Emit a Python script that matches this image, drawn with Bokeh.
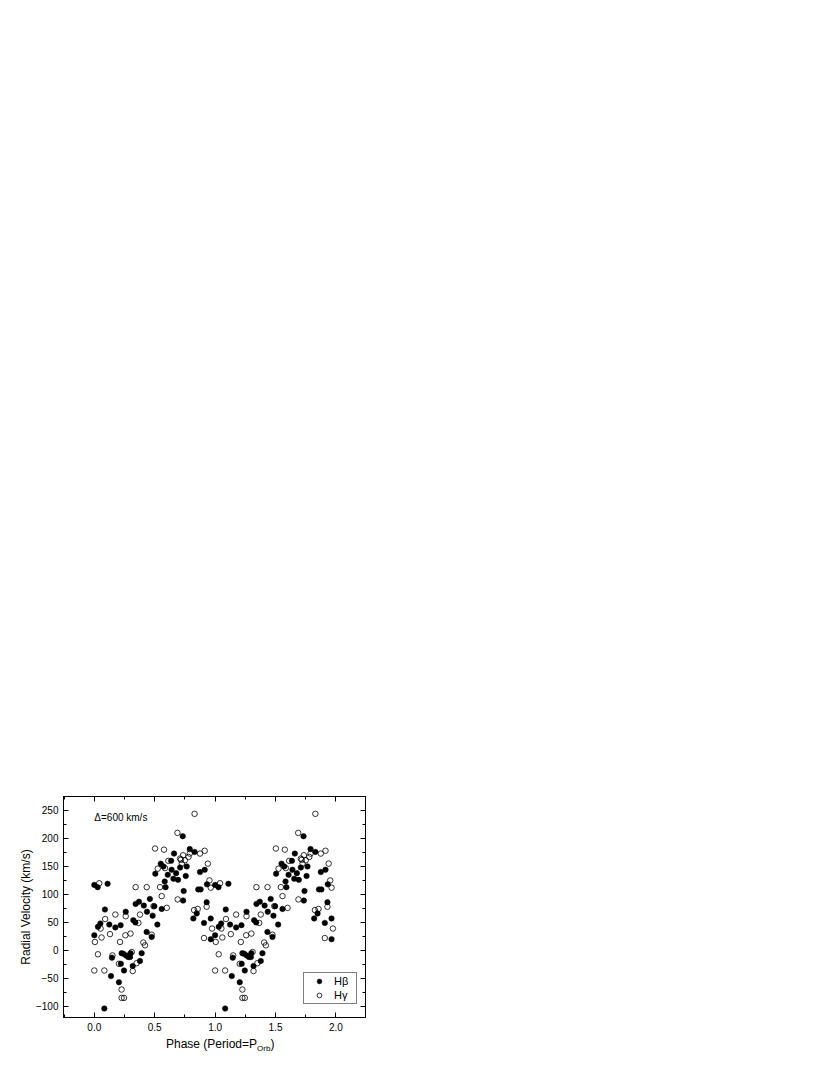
from bokeh.plotting import figure
from bokeh.layouts import column
from bokeh.models import (Range1d, LinearAxis, FixedTicker, PrintfTickFormatter,
                          CustomJSTickFormatter, Label, Legend, LegendItem,
                          ColumnDataSource, Div)
from bokeh.embed import file_html
from bokeh.resources import INLINE

# ---- data (one orbital cycle, phase 0-1; the plot shows it twice) ----
phase_hb = [0.000, 0.000, 0.028, 0.030, 0.050, 0.088, 0.083, 0.110, 0.124, 0.138,
            0.146, 0.174, 0.204, 0.218, 0.220, 0.226, 0.240, 0.246, 0.260, 0.262,
            0.280, 0.296, 0.300, 0.318, 0.323, 0.340, 0.342, 0.370, 0.378, 0.392,
            0.410, 0.433, 0.436, 0.460, 0.475, 0.483, 0.497, 0.505, 0.522, 0.550,
            0.558, 0.572, 0.583, 0.590, 0.608, 0.636, 0.640, 0.655, 0.660, 0.677,
            0.693, 0.710, 0.732, 0.735, 0.740, 0.757, 0.765, 0.790, 0.820, 0.830,
            0.848, 0.860, 0.875, 0.880, 0.908, 0.914, 0.930, 0.933, 0.964, 0.964]
rv_hb = [27, 117, 113, 42, 48, 73, -104, 119, 46, -46,
         -13, 41, -57, 45, -24, -5, -6, -36, 69, -9,
         -12, -12, -5, -28, 54, 50, 83, 87, -19, -5,
         80, 33, 69, 92, 24, 62, 79, 137, 46, 155,
         74, 150, 123, 113, 135, 160, 144, 128, 173, 138,
         126, 148, 204, 89, 106, 133, 150, 181, 57, 176,
         66, 109, 140, 109, 49, 144, 86, 118, 57, 20]

phase_hg = [0.000, 0.005, 0.030, 0.041, 0.052, 0.060, 0.083, 0.090, 0.130, 0.150,
            0.174, 0.204, 0.213, 0.226, 0.226, 0.246, 0.257, 0.260, 0.300, 0.310,
            0.318, 0.342, 0.350, 0.365, 0.378, 0.406, 0.420, 0.434, 0.475, 0.490,
            0.503, 0.525, 0.544, 0.558, 0.577, 0.585, 0.600, 0.613, 0.688, 0.690,
            0.710, 0.717, 0.724, 0.735, 0.750, 0.780, 0.790, 0.830, 0.826, 0.856,
            0.875, 0.908, 0.914, 0.930, 0.940, 0.953, 0.964, 0.975]
rv_hg = [-36, 15, -7, 120, 39, 23, -36, 56, 29, -9,
         64, -24, 15, -70, -85, -85, 27, 61, 30, -3,
         -37, 113, -23, 49, 64, 14, 9, 113, 28, 79,
         182, 146, 113, 97, 180, 147, 76, 160, 210, 91,
         164, 162, 155, 170, 161, 167, 173, 244, 72, 74,
         173, 22, 178, 78, 155, 125, 112, 39]

x_major = [0.0, 0.5, 1.0, 1.5, 2.0]
x_minor = [-0.25, 0.25, 0.75, 1.25, 1.75, 2.25]
y_major = [-100, -50, 0, 50, 100, 150, 200, 250]
y_minor = [-125, -75, -25, 25, 75, 125, 175, 225, 275]

FONT = "Liberation Sans"

# two cycles, as in the folded plot
src_hb = ColumnDataSource(dict(x=phase_hb + [v + 1 for v in phase_hb], y=rv_hb + rv_hb))
src_hg = ColumnDataSource(dict(x=phase_hg + [v + 1 for v in phase_hg], y=rv_hg + rv_hg))

p = figure(width=389, height=1036,
           x_range=Range1d(-0.255, 2.245), y_range=Range1d(-120, 275),
           x_axis_type=None, y_axis_type=None,
           output_backend="svg", toolbar_location=None,
           min_border_left=63, min_border_right=24, min_border_top=796, min_border_bottom=19)
p.xgrid.visible = False
p.ygrid.visible = False
p.outline_line_color = "black"
p.outline_line_width = 1
p.background_fill_color = "white"
p.border_fill_color = "white"


def make_axis(major, minor, show_labels, fmt=None):
    ax = LinearAxis(ticker=FixedTicker(ticks=major, minor_ticks=minor))
    ax.axis_line_color = "black"
    ax.major_tick_line_color = "black"
    ax.minor_tick_line_color = "black"
    ax.major_tick_in = 5
    ax.major_tick_out = 0
    ax.minor_tick_in = 3
    ax.minor_tick_out = 0
    ax.major_label_text_font = FONT
    ax.major_label_text_font_size = "10px"
    ax.major_label_text_color = "black"
    if show_labels:
        if fmt is not None:
            ax.formatter = fmt
    else:
        ax.formatter = CustomJSTickFormatter(code="return ''")
        ax.major_label_standoff = 0
    return ax


xb = make_axis(x_major, x_minor, True, PrintfTickFormatter(format="%.1f"))
xb.major_label_standoff = 5
p.add_layout(xb, "below")
yl = make_axis(y_major, y_minor, True)
yl.major_label_standoff = 5
yl.axis_label = "Radial Velocity (km/s)"
yl.axis_label_text_font = FONT
yl.axis_label_text_font_size = "12px"
yl.axis_label_text_font_style = "normal"
yl.axis_label_text_color = "black"
yl.axis_label_standoff = 0
p.add_layout(yl, "left")
p.add_layout(make_axis(x_major, x_minor, False), "above")
p.add_layout(make_axis(y_major, y_minor, False), "right")

r_hb = p.scatter("x", "y", source=src_hb, marker="circle", size=5.5,
                 fill_color="black", line_color="black", line_width=0.5)
r_hg = p.scatter("x", "y", source=src_hg, marker="circle", size=5.5,
                 fill_color=None, line_color="black", line_width=0.8)

legend = Legend(items=[LegendItem(label="H\u03b2", renderers=[r_hb]),
                       LegendItem(label="H\u03b3", renderers=[r_hg])],
                location=(240, 13))
legend.border_line_color = "black"
legend.border_line_width = 1
legend.background_fill_color = "white"
legend.background_fill_alpha = 1
legend.label_text_font = FONT
legend.label_text_font_size = "11px"
legend.label_text_color = "black"
legend.padding = 2
legend.spacing = 2
legend.margin = 0
legend.glyph_width = 26
legend.glyph_height = 12
legend.label_height = 12
legend.label_standoff = 2
p.add_layout(legend, "center")

# annotation
p.add_layout(Label(x=0.0, y=238, text="\u0394=600 km/s", text_font=FONT,
                   text_font_size="10px", text_baseline="middle", text_color="black"))

# x-axis title with subscript (HTML text below the figure)
xtitle = Div(text=('<div style="margin-left:166px; font-family:\'Liberation Sans\'; '
                   'font-size:12px; color:black; white-space:nowrap; line-height:14px;">'
                   'Phase (Period=P<sub style="font-size:8px; line-height:0;">Orb</sub>)</div>'),
             width=389, height=20, margin=(0, 0, 0, 0))

layout = column(p, xtitle, spacing=0)
open("out.html", "w").write(file_html(layout, INLINE))
